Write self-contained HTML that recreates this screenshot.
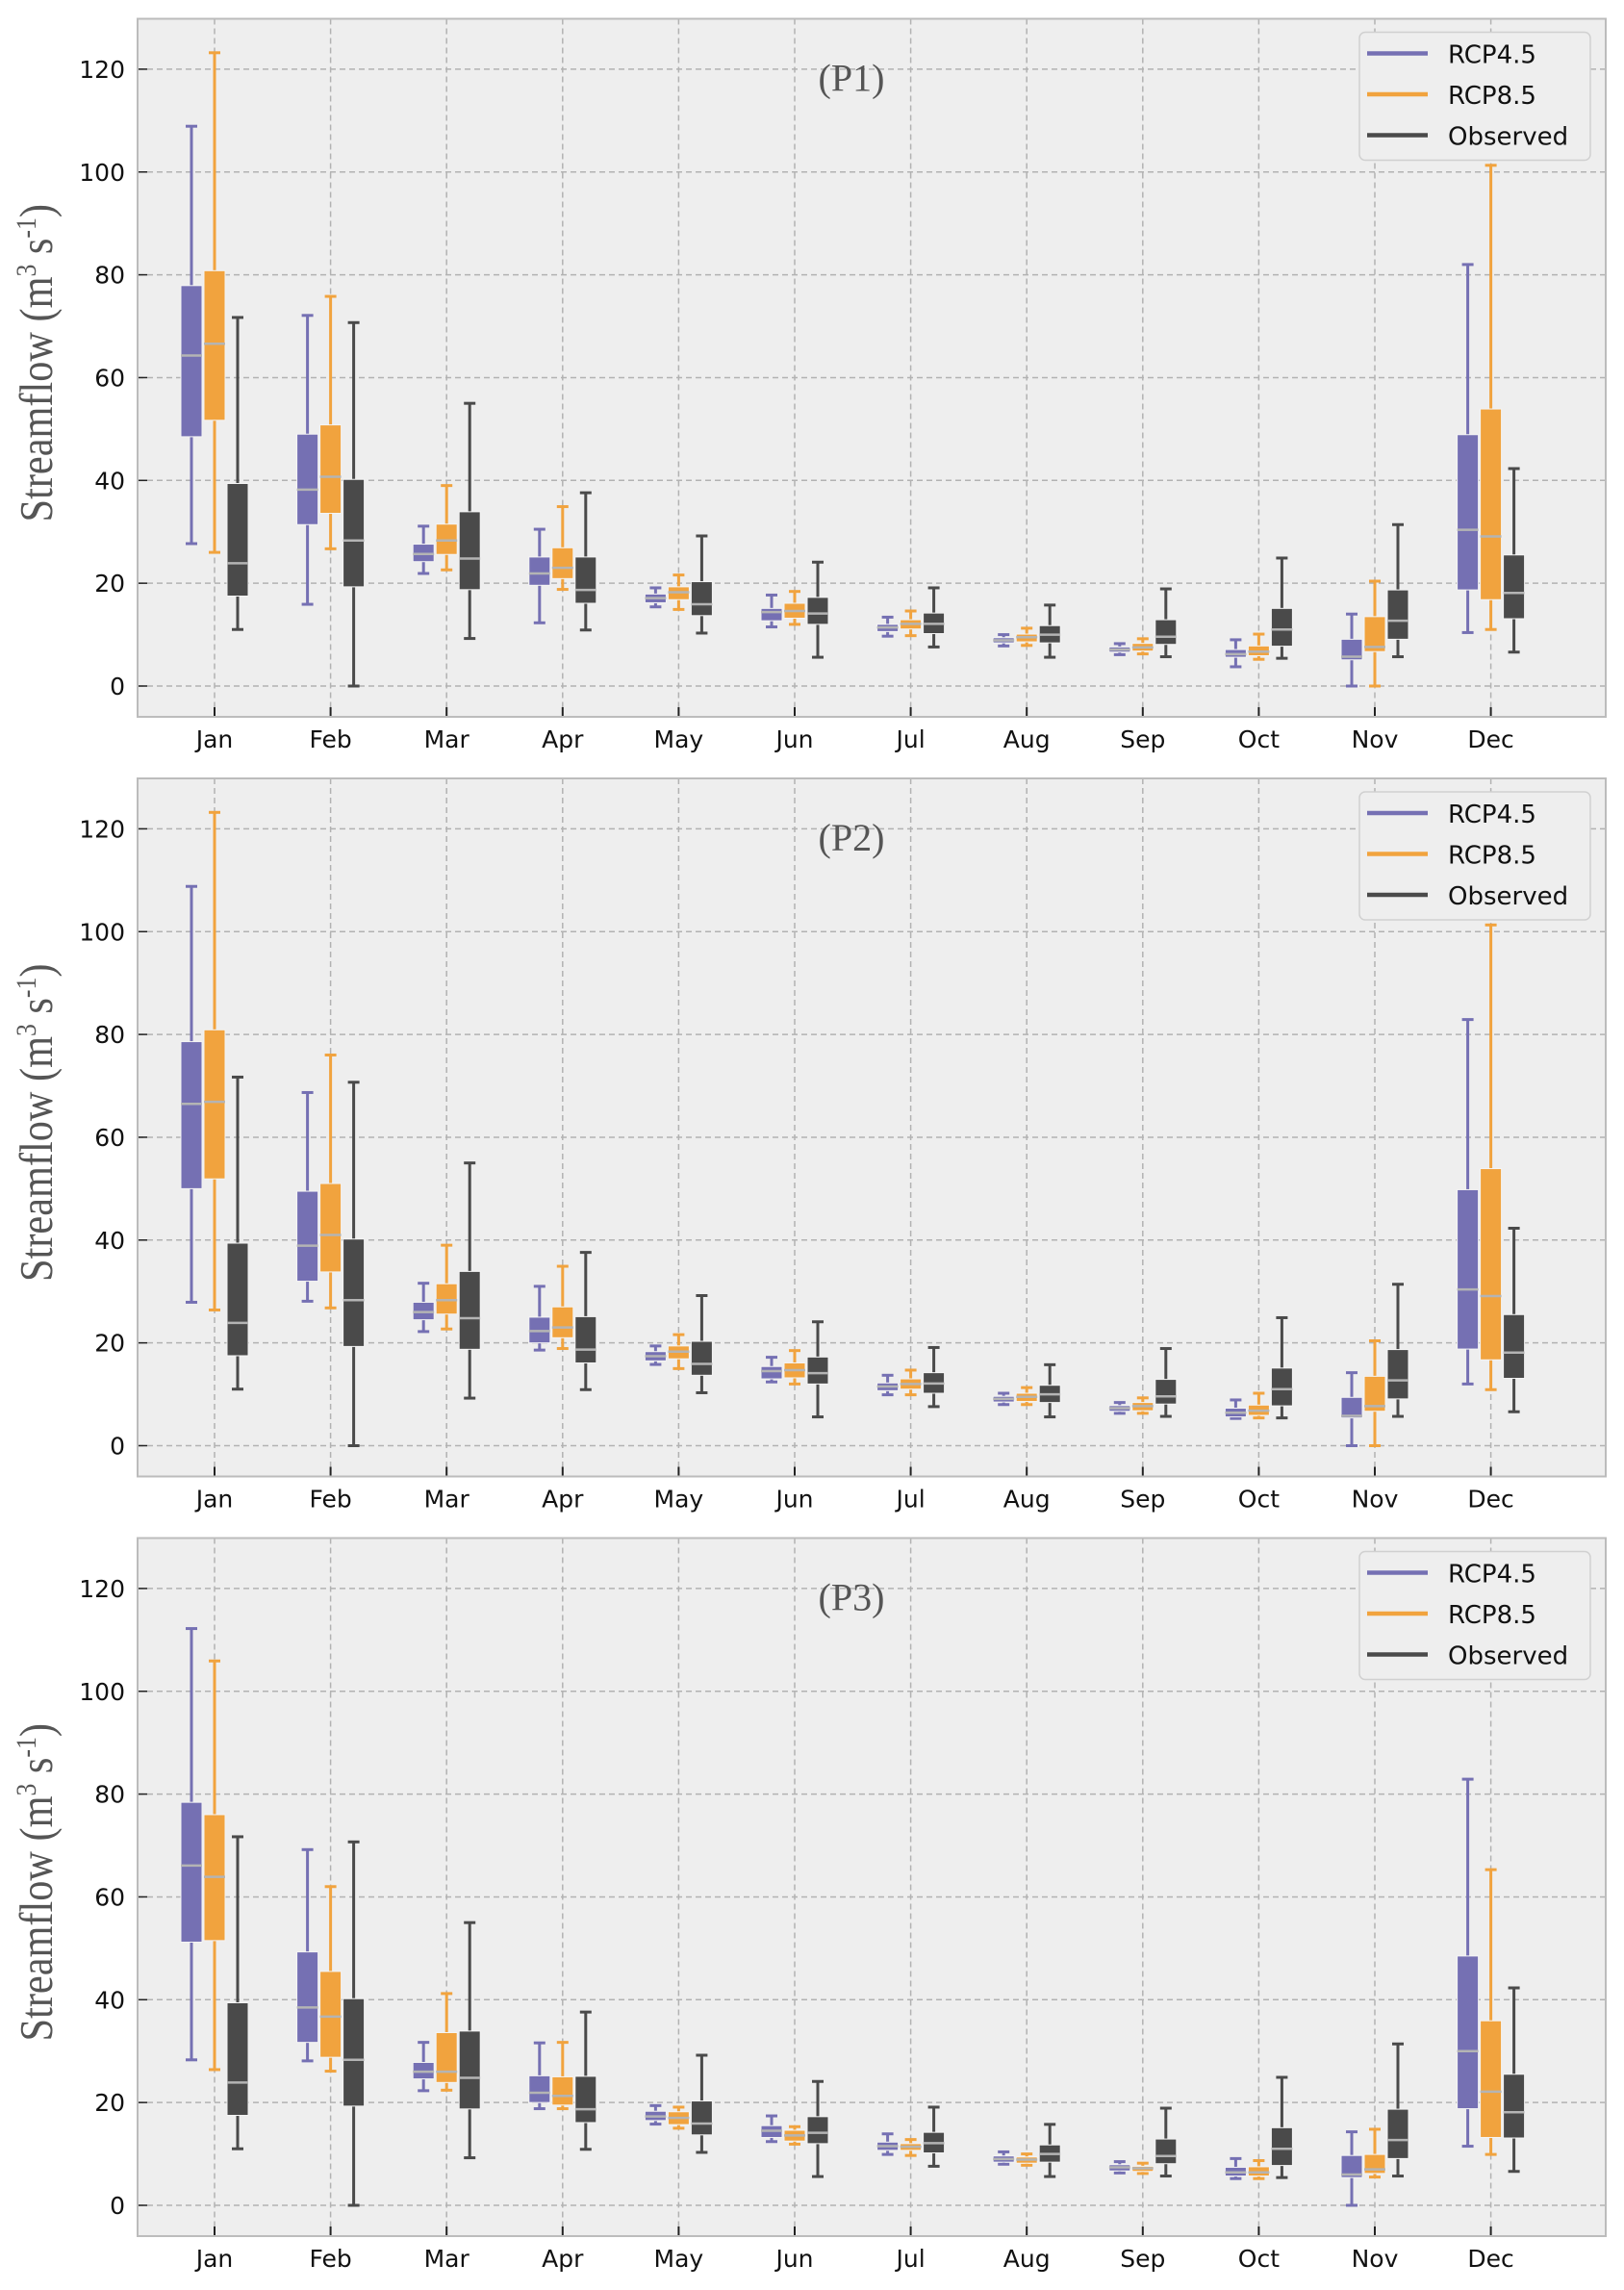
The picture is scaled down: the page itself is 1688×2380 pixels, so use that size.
<!DOCTYPE html>
<html><head><meta charset="utf-8"><style>
html,body{margin:0;padding:0;background:#fff}
svg{display:block}
</style></head><body>
<svg id="fig" width="1688" height="2380" viewBox="0 0 1688 2380" xmlns="http://www.w3.org/2000/svg" font-family="DejaVu Sans, Liberation Sans, sans-serif"></svg>
<script>
const months = ["Jan","Feb","Mar","Apr","May","Jun","Jul","Aug","Sep","Oct","Nov","Dec"];
const panelTitles = ["(P1)","(P2)","(P3)"];
const yTicks = [0,20,40,60,80,100,120];
const seriesNames = ["RCP4.5","RCP8.5","Observed"];
// each entry: [whiskerHigh, Q3, median, Q1, whiskerLow]
const p1Rcp45 = [[108.9,77.9,64.3,48.5,27.7],[72.1,49,38.2,31.4,15.9],[31.1,27.6,25.7,24.2,21.9],[30.5,25.1,21.9,19.6,12.3],[19.1,17.9,17.1,16.2,15.4],[17.7,15.1,14.4,12.7,11.5],[13.4,12,11.4,10.6,9.7],[10,9.4,8.9,8.4,7.8],[8.25,7.6,7.1,6.6,6.1],[9,7.1,6.2,5.6,3.75],[14,9.1,5.7,5.1,0],[82,48.9,30.4,18.7,10.4]];
const p1Rcp85 = [[123.2,80.8,66.6,51.7,26],[75.8,50.8,40.7,33.6,26.7],[39,31.5,28.3,25.6,22.6],[34.9,26.9,23,20.9,18.8],[21.6,19.3,18.25,16.8,14.9],[18.4,16.1,14.6,13.2,12],[14.6,12.9,12.1,11.1,9.8],[11.25,10.1,9.5,8.6,7.9],[9.2,8.3,7.5,6.8,6.25],[10.1,7.8,6.7,5.9,5.2],[20.4,13.5,7.6,6.7,0],[101.3,53.9,29.1,16.8,11]];
const observed = [[71.7,39.4,23.9,17.5,11],[70.7,40.2,28.3,19.3,0],[55,33.9,24.8,18.75,9.25],[37.6,25.1,18.7,16.1,10.9],[29.2,20.3,15.9,13.7,10.3],[24.1,17.25,14.1,12,5.6],[19.1,14.2,12.1,10.2,7.6],[15.75,11.75,10,8.4,5.6],[18.9,12.9,9.6,8.1,5.7],[24.9,15.1,11,7.75,5.4],[31.4,18.7,12.7,9.1,5.7],[42.3,25.5,18.1,13.1,6.6]];
const p2Rcp45 = [[108.8,78.6,66.5,50,27.9],[68.7,49.5,38.9,32,28.1],[31.6,27.9,26,24.5,22.2],[31,25,22.3,20,18.6],[19.4,18.3,17.4,16.5,15.8],[17.2,15.4,14.5,13,12.4],[13.7,12.2,11.5,10.7,9.9],[10.2,9.6,9.1,8.5,8],[8.4,7.8,7.3,6.7,6.3],[8.9,7.3,6.4,5.6,5.3],[14.2,9.4,5.8,5.4,0],[82.9,49.8,30.4,18.8,12]];
const p2Rcp85 = [[123.2,80.9,66.9,51.9,26.4],[76,51,41,33.8,26.8],[39,31.5,28.3,25.6,22.7],[34.9,27,23,21,18.9],[21.6,19.4,18.3,16.9,15],[18.5,16.1,14.7,13.2,12],[14.7,13,12,11,9.9],[11.3,10.2,9.5,8.6,8],[9.3,8.4,7.7,6.8,6.3],[10.2,7.9,6.8,5.9,5.4],[20.4,13.5,7.7,6.7,0],[101.3,53.9,29.1,16.7,10.9]];
const p3Rcp45 = [[112.2,78.4,66.1,51.2,28.3],[69.2,49.3,38.5,31.7,28.1],[31.7,27.8,26,24.6,22.3],[31.6,25.2,21.9,20,18.8],[19.4,18.3,17.3,16.5,15.8],[17.4,15.5,14.5,13.2,12.4],[13.9,12.3,11.5,10.7,9.9],[10.4,9.6,9,8.4,8],[8.5,7.9,7.4,6.7,6.3],[9.1,7.4,6.4,5.7,5.2],[14.3,9.7,6,5.4,0],[82.9,48.5,30,18.8,11.5]];
const p3Rcp85 = [[105.9,76,63.9,51.5,26.4],[62,45.5,36.7,28.8,26.1],[41.2,33.6,26,23.9,22.4],[31.7,25,21.3,19.5,18.8],[19.1,18.2,17,15.7,15],[15.3,14.6,13.6,12.5,11.9],[12.8,12,11.4,10.7,9.7],[10,9.4,8.9,8.2,7.8],[8.2,7.6,7.2,6.6,6.2],[8.7,7.5,6.4,5.7,5.2],[14.8,9.9,7,6.2,5.5],[65.3,35.9,22.1,13.2,9.9]];
const panels = [[p1Rcp45,p1Rcp85,observed],[p2Rcp45,p2Rcp85,observed],[p3Rcp45,p3Rcp85,observed]];

const colors = ["#7570b3","#f1a33e","#4a4a4a"];
const NS = "http://www.w3.org/2000/svg";
const svg = document.getElementById("fig");
function mk(tag, attrs, parent){const e=document.createElementNS(NS,tag);for(const k in attrs)e.setAttribute(k,attrs[k]);(parent||svg).appendChild(e);return e;}

const left=143, right=1669, x0=223, dx=120.6, pxPer=106.85/20;
function xPos(i){return x0+i*dx;}

panels.forEach((data,p)=>{
  const y0 = 713 + p*789.5;
  const yPos = v => y0 - v*pxPer;
  const top = y0 - 693.5, bottom = y0 + 32;
  const g = mk("g",{});
  
  
  const bg = mk("rect",{x:left,y:top,width:right-left,height:bottom-top,fill:"#eeeeee"},g);
  
  
  yTicks.forEach(t=>{
    const y=yPos(t);
    const gl=mk("line",{x1:left,x2:right,y1:y,y2:y,stroke:"#b2b2b2","stroke-width":1.5,"stroke-dasharray":"6,4"},g);
    
    
    mk("line",{x1:left,x2:left+10,y1:y,y2:y,stroke:"#222","stroke-width":1.5},g);
    const tl=mk("text",{x:130,y:y+9,"text-anchor":"end","font-size":25,fill:"#111"},g);
    tl.textContent=t;
    
    
  });
  months.forEach((m,i)=>{
    const x=xPos(i);
    const gl=mk("line",{x1:x,x2:x,y1:top,y2:bottom,stroke:"#b2b2b2","stroke-width":1.5,"stroke-dasharray":"6,4"},g);
    
    
    mk("line",{x1:x,x2:x,y1:bottom-10,y2:bottom,stroke:"#222","stroke-width":2},g);
    const tl=mk("text",{x:x,y:bottom+32,"text-anchor":"middle","font-size":25,fill:"#111"},g);
    tl.textContent=m;
    
    
  });
  data.forEach((series,s)=>{
    series.forEach((st,i)=>{
      const cx = xPos(i) + (s-1)*24, w=22, c=colors[s];
      const bx = mk("g",{},g);
      
      
      mk("line",{x1:cx,x2:cx,y1:yPos(st[0]),y2:yPos(st[4]),stroke:c,"stroke-width":3},bx);
      mk("line",{x1:cx-6,x2:cx+6,y1:yPos(st[0]),y2:yPos(st[0]),stroke:c,"stroke-width":3},bx);
      mk("line",{x1:cx-6,x2:cx+6,y1:yPos(st[4]),y2:yPos(st[4]),stroke:c,"stroke-width":3},bx);
      mk("rect",{x:cx-w/2,y:yPos(st[1]),width:w,height:Math.max(1,yPos(st[3])-yPos(st[1])),fill:c,stroke:"#f4f4f4","stroke-width":1},bx);
      mk("line",{x1:cx-w/2,x2:cx+w/2,y1:yPos(st[2]),y2:yPos(st[2]),stroke:"#b4b4b4","stroke-width":2.5},bx);
    });
  });
  const fr=mk("rect",{x:left,y:top,width:right-left,height:bottom-top,fill:"none",stroke:"#bcbcbc","stroke-width":2},g);
  
  
  const tt=mk("text",{x:885,y:top+75,"text-anchor":"middle","font-size":40,fill:"#555","font-family":"Liberation Serif, serif"},g);
  tt.textContent=panelTitles[p];
  
  
  const yl=mk("text",{x:0,y:0,"text-anchor":"middle","font-size":46,fill:"#555","font-family":"Liberation Serif, serif",transform:`translate(54,${(top+bottom)/2-5}) rotate(-90) scale(0.92,1.05)`},g);
  yl.innerHTML='Streamflow (m<tspan dy="-16" font-size="28">3</tspan><tspan dy="16"> s</tspan><tspan dy="-16" font-size="28">-1</tspan><tspan dy="16">)</tspan>';
  
  
  const lg=mk("g",{},g);
  
  
  mk("rect",{x:1413,y:top+14,width:240,height:133,rx:6,fill:"#eeeeee",stroke:"#d0d0d0","stroke-width":1.5},lg);
  seriesNames.forEach((n,s)=>{
    const ly=top+36+s*42.5;
    const le=mk("g",{},lg);
    
    
    mk("line",{x1:1421,x2:1484,y1:ly,y2:ly,stroke:colors[s],"stroke-width":4.5},le);
    const t=mk("text",{x:1505,y:ly+10,"font-size":26,fill:"#111"},le);
    t.textContent=n;
  });
});
</script>
</body></html>
